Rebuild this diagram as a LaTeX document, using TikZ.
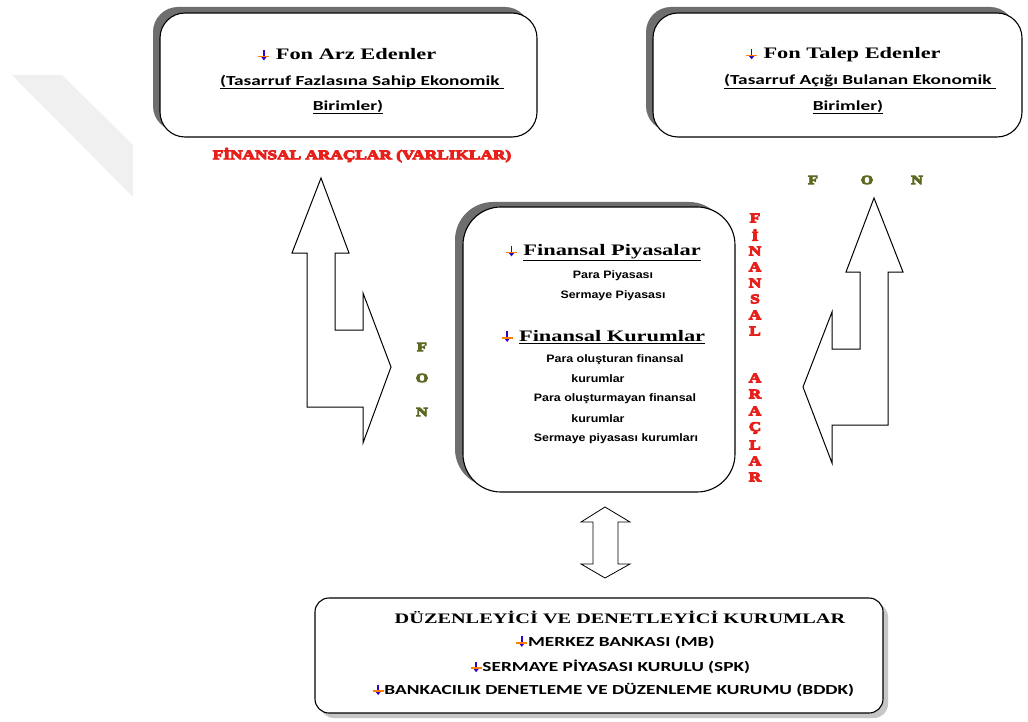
\documentclass[tikz,border=0pt]{standalone}
\usepackage{fontspec}
\setmainfont{Liberation Serif}
\newfontfamily\serifx[FakeStretch=1.4]{Liberation Serif}
\newfontfamily\calx[FakeStretch=1.4]{Carlito}
\newfontfamily\arialx[FakeStretch=1.15]{Liberation Sans}
\newfontfamily\heavyx[FakeStretch=1.3,FakeBold=7]{Liberation Serif Bold}
\usetikzlibrary{arrows.meta}
\definecolor{fred}{RGB}{232,32,28}
\definecolor{folive}{RGB}{92,104,34}
\definecolor{shad}{RGB}{110,110,110}
\newcommand\bul{\tikz[baseline=0pt,x=1pt,y=1pt]{\draw[blue!60!violet,line width=1.5pt,-{Triangle[length=4pt,width=6pt]}](0,10)--(0,-0.5);\draw[orange,line width=1.6pt](-5.5,3.5)--(5.5,3.5);}}
\tikzset{
  hdr/.style={font=\serifx\bfseries\fontsize{16}{18}\selectfont,inner sep=0pt},
  hdrb/.style={font=\serifx\bfseries\fontsize{14.5}{17}\selectfont,inner sep=0pt},
  sub/.style={font=\calx\bfseries\fontsize{13.8}{16}\selectfont,inner sep=0pt},
  small/.style={font=\arialx\bfseries\fontsize{10.8}{12}\selectfont,inner sep=0pt},
  redl/.style={font=\heavyx\fontsize{13.3}{14}\selectfont,text=fred,inner sep=0pt},
  fonl/.style={font=\heavyx\fontsize{12.5}{13}\selectfont,text=folive,inner sep=0pt},
  boxd/.style={draw=black,fill=white,line width=1.1pt},
  blockarrow/.style={draw=black,fill=white,line width=1pt,line join=miter},
}
\begin{document}
\begin{tikzpicture}[x=1pt,y=-1pt]
\useasboundingbox (0,0) rectangle (1028,722);
\fill[white] (0,0) rectangle (1028,722);
% watermark
\fill[gray!12] (12,75)--(62,75)--(133,145)--(133,197)--cycle;
% top-left box
\fill[shad,rounded corners=25pt] (153,7) rectangle (530,131);
\draw[boxd,rounded corners=25pt] (160,13) rectangle (537,137);
\node[hdr] (t1) at (347,55) {\bul\ Fon Arz Edenler};
\node[sub] (t1a) at (362,82) {\underline{(Tasarruf Fazlasına Sahip Ekonomik\ }};
\node[sub] (t1b) at (348,107) {\underline{Birimler)}};
% top-right box
\fill[shad,rounded corners=25pt] (646,7) rectangle (1015,131);
\draw[boxd,rounded corners=25pt] (653,13) rectangle (1022,137);
\node[hdr] (t2) at (843,55) {\bul\ Fon Talep Edenler};
\node[sub] (t2a) at (860,82) {\underline{(Tasarruf Açığı Bulanan Ekonomik\ }};
\node[sub] (t2b) at (848,107) {\underline{Birimler)}};
% red header
\node[redl] (fa) at (362,155) {FİNANSAL ARAÇLAR (VARLIKLAR)};
% top FON
\node[fonl] (f1) at (813,180) {F};
\node[fonl] (f2) at (867,180) {O};
\node[fonl] (f3) at (917,180) {N};
% middle box
\fill[shad,rounded corners=38pt] (455,202) rectangle (727,487);
\draw[boxd,rounded corners=38pt] (463,207) rectangle (735,492);
\node[hdr] (m1) at (603,253) {\bul\ \underline{Finansal Piyasalar}};
\node[small] (m2) at (613,276) {Para Piyasası};
\node[small] (m3) at (613,296) {Sermaye Piyasası};
\node[hdr] (m4) at (603,337) {\bul\ \underline{Finansal Kurumlar}};
\node[small] (m5) at (615,360) {Para oluşturan finansal};
\node[small] (m6) at (598,379) {kurumlar};
\node[small] (m7) at (615,399) {Para oluşturmayan finansal};
\node[small] (m8) at (598,419) {kurumlar};
\node[small] (m9) at (616,439) {Sermaye piyasası kurumları};
% vertical red text
\foreach \l/\yy in {F/218,İ/235,N/251,A/267,N/283,S/299,A/315,L/331,A/378,R/394,A/411,Ç/428,L/445,A/461,R/477}
  \node[redl] (v\yy) at (755,\yy) {\l};
% left FON
\node[fonl] (g1) at (422,347) {F};
\node[fonl] (g2) at (422,378) {O};
\node[fonl] (g3) at (422,412) {N};
% left block arrow
\draw[blockarrow] (321,178)--(349,253)--(335,253)--(335,330)--(363,330)--(363,293)--(391,367)--(363,443)--(363,407)--(307,407)--(307,253)--(292,253)--cycle;
% right block arrow
\draw[blockarrow] (874,198)--(903,272)--(888,272)--(888,425)--(832,425)--(832,463)--(803,387)--(832,312)--(832,349)--(860,349)--(860,272)--(846,272)--cycle;
% small double arrow
\draw[blockarrow,line width=0.8pt] (605,507)--(630,522)--(618,522)--(618,564)--(630,564)--(605,578)--(581,564)--(593,564)--(593,522)--(581,522)--cycle;
% bottom box
\fill[gray!45,rounded corners=14pt] (320,603) rectangle (888,718);
\draw[boxd,rounded corners=14pt] (315,598) rectangle (883,713);
\node[hdrb] (b1) at (620,617) {DÜZENLEYİCİ VE DENETLEYİCİ KURUMLAR};
\node[sub] (b2) at (615,642) {\bul MERKEZ BANKASI (MB)};
\node[sub] (b3) at (610,667) {\bul SERMAYE PİYASASI KURULU (SPK)};
\node[sub] (b4) at (613,690) {\bul BANKACILIK DENETLEME VE DÜZENLEME KURUMU (BDDK)};
\end{tikzpicture}
\end{document}
